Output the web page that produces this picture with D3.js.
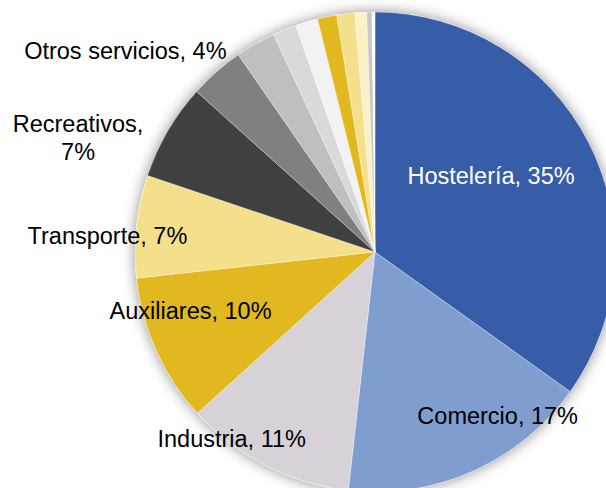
<!DOCTYPE html>
<html>
<head>
<meta charset="utf-8">
<script src="https://cdn.jsdelivr.net/npm/d3@7"></script>
<style>
  html, body { margin: 0; padding: 0; background: #fff; }
  svg { display: block; font-family: "Liberation Sans", Arial, sans-serif; }
</style>
</head>
<body>
<svg width="606" height="488"></svg>
<script>
// Sector shares (%), clockwise from 12 o'clock
const categories = ["Hostelería", "Comercio", "Industria", "Auxiliares", "Transporte",
  "Recreativos", "Otros servicios", "", "", "", "", "", "", "", ""];
const values = [34.9, 16.9, 11.5, 10.0, 6.9, 6.5, 3.7, 2.7, 1.6, 1.5, 1.3, 1.2, 0.8, 0.35, 0.2];
const labelText = [["Hostelería, 35%"], ["Comercio, 17%"], ["Industria, 11%"], ["Auxiliares, 10%"],
  ["Transporte, 7%"], ["Recreativos,", "7%"], ["Otros servicios, 4%"]];

const colors = ["#375ca8", "#7f9dce", "#d6d2d7", "#e1b81f", "#f4e08b", "#404040", "#808080",
  "#bfbfbf", "#d9d9d9", "#f2f2f2", "#e1b81f", "#f4e08b", "#fbf1c9", "#c8c8c8", "#ffffff"];
const textColors = ["#fff", "#000", "#000", "#000", "#000", "#000", "#000"];

// label placement: radius factor and angle nudge (deg) from slice middle
const labelPlace = [[0.578, -6], [0.851, -12.9], [0.979, 10.5], [0.806, 6.7],
  [1.117, -2.7], [1.326, -9.2], [1.336, -9.75]];

const svg = d3.select("svg");
const cx = 375, cy = 252, radius = 240;

const defs = svg.append("defs");
const filter = defs.append("filter").attr("id", "glow")
  .attr("x", "-20%").attr("y", "-20%").attr("width", "140%").attr("height", "140%");
filter.append("feDropShadow")
  .attr("dx", 0).attr("dy", 0)
  .attr("stdDeviation", 7)
  .attr("flood-color", "#000")
  .attr("flood-opacity", 0.45);

const g = svg.append("g").attr("transform", `translate(${cx},${cy})`);

const pie = d3.pie().sort(null).value(d => d);
const arcs = pie(values);
const arc = d3.arc().innerRadius(0).outerRadius(radius);

// shadow disc behind the pie
g.append("circle").attr("r", radius).attr("fill", "#fff").attr("filter", "url(#glow)");

g.selectAll("path.slice")
  .data(arcs)
  .join("path")
  .attr("class", "slice")
  .attr("d", arc)
  .attr("fill", (d, i) => colors[i])
  .attr("stroke", "#fff")
  .attr("stroke-width", 0.3);

const fontSize = 23.5;
const lineH = 27.5;

labelText.forEach((lines, i) => {
  const a = arcs[i];
  const mid = (a.startAngle + a.endAngle) / 2 + labelPlace[i][1] * Math.PI / 180;
  const r = radius * labelPlace[i][0];
  const x = r * Math.sin(mid);
  const y = -r * Math.cos(mid);
  const t = g.append("text")
    .attr("text-anchor", "middle")
    .attr("font-size", fontSize)
    .attr("fill", textColors[i]);
  lines.forEach((ln, j) => {
    t.append("tspan")
      .attr("x", x)
      .attr("y", y + (j - (lines.length - 1) / 2) * lineH)
      .attr("dy", "0.36em")
      .text(ln);
  });
});
</script>
</body>
</html>
